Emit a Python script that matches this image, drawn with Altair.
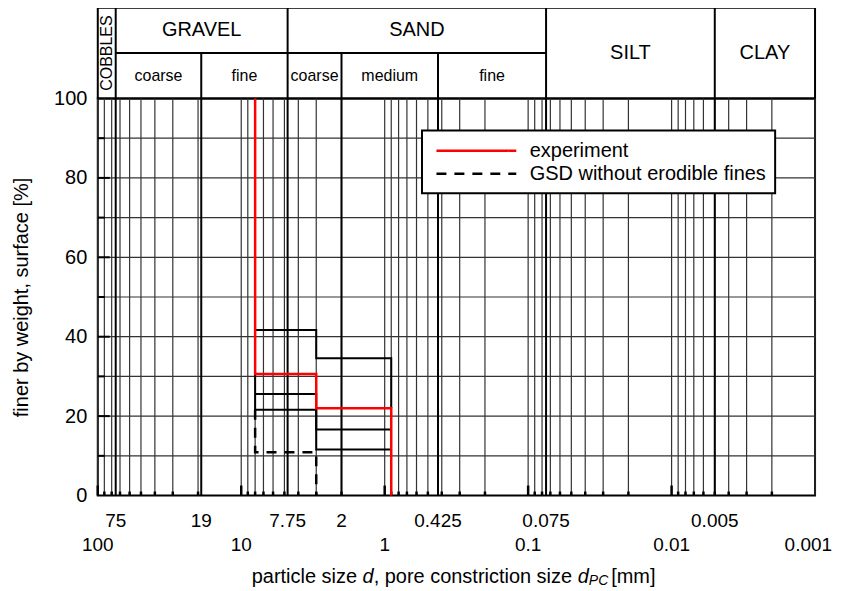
import altair as alt
import pandas as pd

FONT = "Liberation Sans"

# ---------------- data ----------------
# USCS / ASTM class boundaries (mm)
full_bounds = [75, 4.75, 0.075, 0.005]          # lines through both header rows
sub_only_bounds = [19, 2, 0.425]                # lines in the lower header row only
boundary_lines = [75, 19, 4.75, 2, 0.425, 0.075, 0.005]

main_names = ["GRAVEL", "SAND", "SILT", "CLAY"]
main_hi = [75, 4.75, 0.075, 0.005]
main_lo = [4.75, 0.075, 0.005, 0.001]
main_row = [1.5, 1.5, 1.0, 1.0]

sub_names = ["coarse", "fine", "coarse", "medium", "fine"]
sub_hi = [75, 19, 4.75, 2, 0.425]
sub_lo = [19, 4.75, 2, 0.425, 0.075]

cobbles_hi, cobbles_lo = 100, 75

decades = [0.001, 0.01, 0.1, 1, 10]
mantissas = [1, 2, 3, 4, 5, 6, 7, 8, 9]
y_grid = [10, 20, 30, 40, 50, 60, 70, 80, 90]
y_ticks_major = [20, 40, 60, 80]
y_ticks_minor = [10, 30, 50, 70, 90]
y_labels = [0, 20, 40, 60, 80, 100]

top_labels = ["75", "19", "7.75", "2", "0.425", "0.075", "0.005"]
top_label_pos = [75, 19, 4.75, 2, 0.425, 0.075, 0.005]
bottom_labels = ["100", "10", "1", "0.1", "0.01"]
bottom_label_pos = [100, 10, 1, 0.1, 0.01]
last_label, last_label_pos = "0.001", 0.001

# experiment (red) and GSD without erodible fines (dashed)
exp_x = [8, 8, 3, 3, 0.9, 0.9]
exp_y = [100, 30.6, 30.6, 22.0, 22.0, 0]
gsd_x = [8, 8, 3, 3]
gsd_y = [21.6, 10.9, 10.9, 0]

# other measured steps (black, solid)
stepA_x = [8, 3, 3, 0.9, 0.9]
stepA_y = [41.7, 41.7, 34.6, 34.6, 22.0]
stepB_x = [8, 3, 3, 0.9]
stepB_y = [25.6, 25.6, 16.6, 16.6]
stepC_x = [8, 8, 3, 3, 0.9]
stepC_y = [30.6, 21.6, 21.6, 11.6, 11.6]

# ---------------- layout ----------------
W, H, HH = 719, 398, 91
GRID = "#333333"

xs = alt.Scale(type="log", domain=[0.001, 100], reverse=True, nice=False)
ys = alt.Scale(domain=[0, 100], nice=False)
hs = alt.Scale(domain=[0, 2], nice=False)

def geo(a, b):
    return (a * b) ** 0.5

minor_vals = [m * d for d in decades for m in mantissas] + [100]
df_minor = pd.DataFrame({"x": minor_vals})
df_dec = pd.DataFrame({"x": decades[1:] + [100]})
df_nondec = pd.DataFrame({"x": [v for v in minor_vals if v not in decades + [100]]})

yaxis = alt.Axis(values=y_labels, ticks=False, domain=False, grid=False,
                 labelFont=FONT, labelFontSize=20, labelPadding=11, labelColor="black",
                 title="finer by weight, surface [%]", titleFont=FONT, titleFontSize=20,
                 titleFontWeight="normal", titlePadding=22, titleColor="black")
X = lambda f="x": alt.X(f"{f}:Q", scale=xs, axis=None)
Y = lambda f="y": alt.Y(f"{f}:Q", scale=ys, axis=yaxis, title="finer by weight, surface [%]")

grid_v = alt.Chart(df_minor).mark_rule(color=GRID, strokeWidth=1.2).encode(x=X())
grid_h = alt.Chart(pd.DataFrame({"y": y_grid})).mark_rule(color=GRID, strokeWidth=1.2).encode(y=Y())
bounds = alt.Chart(pd.DataFrame({"x": boundary_lines})).mark_rule(color="black", strokeWidth=2).encode(x=X())

tick_long = alt.Chart(df_dec).mark_rule(color="black", strokeWidth=2.5).encode(
    x=X(), y=alt.value(H), y2=alt.value(H - 10))
tick_short = alt.Chart(df_nondec).mark_rule(color="black", strokeWidth=2.5).encode(
    x=X(), y=alt.value(H), y2=alt.value(H - 4))
ytick_major = alt.Chart(pd.DataFrame({"y": y_ticks_major})).mark_rule(color="black", strokeWidth=2).encode(
    y=Y(), x=alt.value(0), x2=alt.value(12))
ytick_minor = alt.Chart(pd.DataFrame({"y": y_ticks_minor})).mark_rule(color="black", strokeWidth=2).encode(
    y=Y(), x=alt.value(0), x2=alt.value(7))

steps = pd.concat([
    pd.DataFrame({"s": "A", "i": range(len(stepA_x)), "x": stepA_x, "y": stepA_y}),
    pd.DataFrame({"s": "B", "i": range(len(stepB_x)), "x": stepB_x, "y": stepB_y}),
    pd.DataFrame({"s": "C", "i": range(len(stepC_x)), "x": stepC_x, "y": stepC_y}),
])
steps_layer = alt.Chart(steps).mark_line(color="black", strokeWidth=2).encode(
    x=X(), y=Y(), detail="s:N", order="i:Q")

series_names = ["experiment", "GSD without erodible fines"]
series = pd.concat([
    pd.DataFrame({"series": series_names[0], "i": range(len(exp_x)), "x": exp_x, "y": exp_y}),
    pd.DataFrame({"series": series_names[1], "i": range(len(gsd_x)), "x": gsd_x, "y": gsd_y}),
])
legend = alt.Legend(title=None, orient="none", legendX=325, legendY=123,
                    symbolType="M-4,0H4", symbolSize=400, symbolOffset=34,
                    symbolStrokeWidth=2.5, labelFont=FONT, labelFontSize=20, labelLimit=500,
                    labelExpr="datum.label + '\u00a0\u00a0'",
                    labelColor="black", labelOffset=42, padding=9, rowPadding=1,
                    strokeColor="black", fillColor="white")
series_layer = alt.Chart(series).mark_line(strokeWidth=2.5).encode(
    x=X(), y=Y(), order="i:Q",
    color=alt.Color("series:N", scale=alt.Scale(domain=series_names, range=["#ff0000", "black"]), legend=legend),
    strokeDash=alt.StrokeDash("series:N", scale=alt.Scale(domain=series_names, range=[[1, 0], [10, 8]]), legend=legend),
)

lab_top = alt.Chart(pd.DataFrame({"x": top_label_pos, "t": top_labels})).mark_text(
    font=FONT, fontSize=19, baseline="middle", color="black").encode(x=X(), y=alt.value(H + 26), text="t:N")
lab_bot = alt.Chart(pd.DataFrame({"x": bottom_label_pos, "t": bottom_labels})).mark_text(
    font=FONT, fontSize=19, baseline="middle", color="black").encode(x=X(), y=alt.value(H + 50), text="t:N")
lab_last = alt.Chart(pd.DataFrame({"x": [last_label_pos], "t": [last_label]})).mark_text(
    font=FONT, fontSize=19, baseline="middle", align="right", dx=17, color="black").encode(
    x=X(), y=alt.value(H + 50), text="t:N")

# x-axis title with italic d and subscript PC (Arial metrics, units per 1000 em)
adv = {" ": 278, "a": 556, "c": 500, "d": 556, "e": 556, "i": 222, "l": 222, "m": 833, "n": 556,
       "o": 556, "p": 556, "r": 333, "s": 500, "t": 278, "z": 500, ",": 278, "[": 278, "]": 278,
       "P": 667, "C": 722}
TS, SS = 20, 14
pieces = [("particle size ", "n", TS, 0), ("d", "i", TS, 0), (", pore constriction size ", "n", TS, 0),
          ("d", "i", TS, 0), ("PC", "s", SS, 3), (" [mm]", "n", TS, 0)]
widths = [sum(adv[c] for c in t) * sz / 1000 + g for t, _, sz, g in pieces]
total = sum(widths)
pos, cur = [], W / 2 - total / 2
for w in widths:
    pos.append(cur)
    cur += w
tdf = pd.DataFrame({"t": [p[0] for p in pieces], "k": [p[1] for p in pieces], "px": pos})
TY = H + 82
title_n = alt.Chart(tdf[tdf.k == "n"]).mark_text(font=FONT, fontSize=TS, align="left", baseline="middle",
                                               color="black").encode(x=alt.X("px:Q", scale=None), y=alt.value(TY), text="t:N")
title_i = alt.Chart(tdf[tdf.k == "i"]).mark_text(font=FONT, fontSize=TS, fontStyle="italic", align="left",
                                               baseline="middle", color="black").encode(x=alt.X("px:Q", scale=None), y=alt.value(TY), text="t:N")
title_s = alt.Chart(tdf[tdf.k == "s"]).mark_text(font=FONT, fontSize=SS, fontStyle="italic", align="left",
                                               baseline="middle", color="black").encode(x=alt.X("px:Q", scale=None), y=alt.value(TY + 4), text="t:N")

main = alt.layer(grid_v, grid_h, bounds, tick_long, tick_short, ytick_major, ytick_minor,
                 steps_layer, series_layer, lab_top, lab_bot, lab_last, title_n, title_i, title_s
                 ).properties(width=W, height=H)

# ---------------- header table ----------------
HX = lambda f="x": alt.X(f"{f}:Q", scale=xs, axis=None)
HY = lambda f="y": alt.Y(f"{f}:Q", scale=hs, axis=None)
h_full = alt.Chart(pd.DataFrame({"x": full_bounds})).mark_rule(color="black", strokeWidth=2).encode(x=HX())
h_sub = alt.Chart(pd.DataFrame({"x": sub_only_bounds, "y": 0, "y2": 1})).mark_rule(
    color="black", strokeWidth=2).encode(x=HX(), y=HY(), y2="y2:Q")
h_mid = alt.Chart(pd.DataFrame({"x": [75], "x2": [0.075], "y": [1]})).mark_rule(
    color="black", strokeWidth=2).encode(x=HX(), x2="x2:Q", y=HY())
main_txt = pd.DataFrame({"t": main_names, "x": [geo(a, b) for a, b in zip(main_hi, main_lo)], "y": main_row})
h_main = alt.Chart(main_txt).mark_text(font=FONT, fontSize=20, color="black", baseline="middle").encode(
    x=HX(), y=HY(), text="t:N")
sub_txt = pd.DataFrame({"t": sub_names, "x": [geo(a, b) for a, b in zip(sub_hi, sub_lo)], "y": 0.5})
h_subt = alt.Chart(sub_txt).mark_text(font=FONT, fontSize=16, color="black", baseline="middle").encode(
    x=HX(), y=HY(), text="t:N")
h_cob = alt.Chart(pd.DataFrame({"t": ["COBBLES"], "x": [geo(cobbles_hi, cobbles_lo)], "y": [1.0]})).mark_text(
    font=FONT, fontSize=16, color="black", angle=270, baseline="middle").encode(x=HX(), y=HY(), text="t:N")
header = alt.layer(h_full, h_sub, h_mid, h_main, h_subt, h_cob).properties(width=W, height=HH)

chart = alt.vconcat(header, main, spacing=0, bounds="flush").properties(
    padding={"left": 2, "top": -3, "right": 0, "bottom": 0}
).configure_view(stroke="black", strokeWidth=2).configure_legend(strokeWidth=2)

chart.save("out.html", embed_options={"renderer": "svg", "actions": False})
